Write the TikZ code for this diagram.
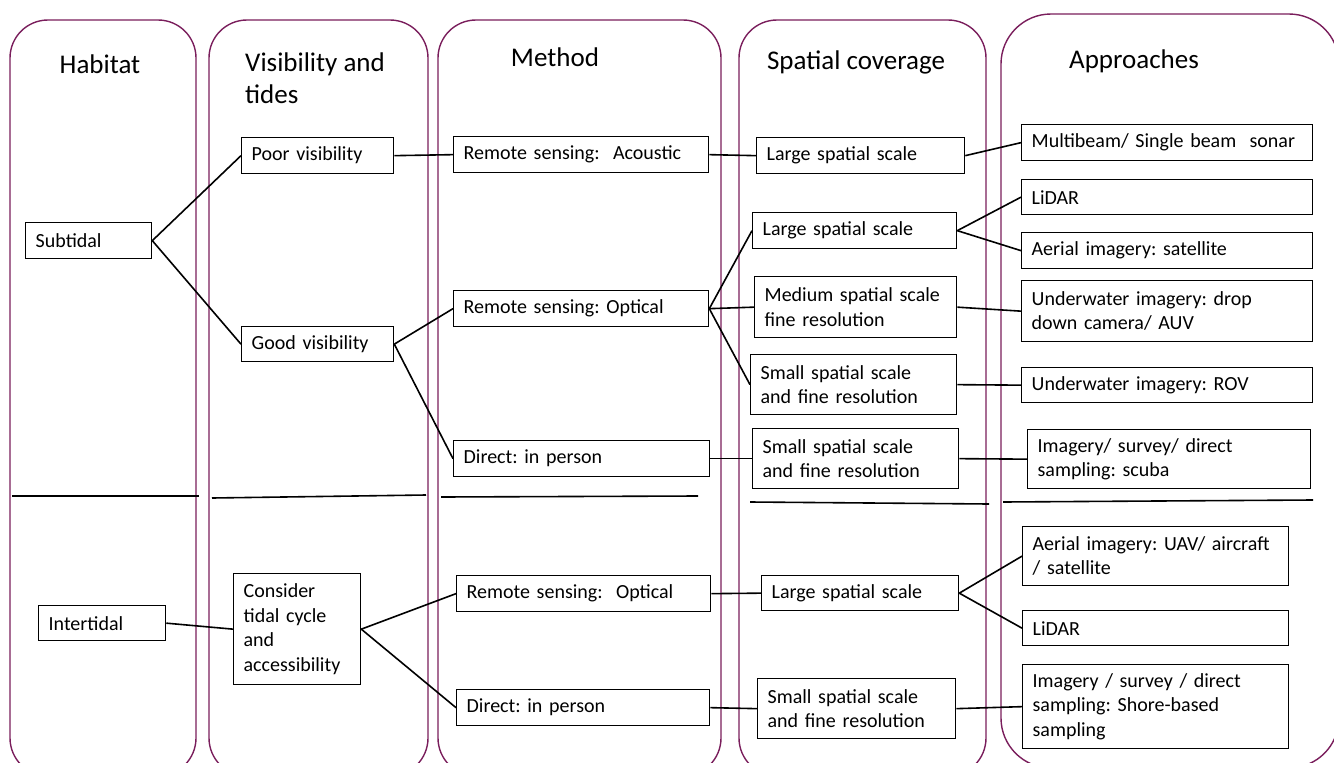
\documentclass[tikz,border=0pt]{standalone}
\usepackage{fontspec}
\setmainfont{Carlito}
\definecolor{colframe}{RGB}{122,30,92}
\frenchspacing

\begin{document}
\begin{tikzpicture}[x=1pt,y=-1pt,
  column/.style={draw=colframe, line width=1.4pt, rounded corners=38pt},
  head/.style={font=\fontsize{27}{32}\selectfont, inner sep=0pt},
  box/.style={draw, line width=1.3pt, anchor=north west, align=left,
    inner xsep=10pt, inner ysep=0pt, font=\fontsize{20}{24.5}\selectfont},
  link/.style={line width=1.6pt}]
  \useasboundingbox (0,0) rectangle (1334,763);
  \fill[white] (0,0) rectangle (1334,763);

  % columns
  \draw[column] (10,20) rectangle (196,776);
  \draw[column] (209,20) rectangle (428,776);
  \draw[column] (438,20) rectangle (721,776);
  \draw[column] (739,20) rectangle (986,776);
  \draw[column, rounded corners=50pt] (1001,14) rectangle (1339,768);

  % headings
  \node[head] (hHabitat) at (100,64) {Habitat};
  \node[head, anchor=west, align=left] (hVis) at (245,78) {Visibility and\\tides};
  \node[head] (hMethod) at (555,57) {Method};
  \node[head] (hSpatial) at (856,62) {Spatial coverage};
  \node[head] (hApproach) at (1134,61) {Approaches};

  % subtidal / intertidal split
  \draw[line width=1.6pt] (12,496) -- (199,496);
  \draw[line width=1.6pt] (212,498) -- (426,495);
  \draw[line width=1.6pt] (441,497) -- (698,496);
  \draw[line width=1.6pt] (750,502) -- (989,504);
  \draw[line width=1.6pt] (1003,502) -- (1313,500);

  % habitat
  \node[box, text width=106pt, minimum height=36pt] (sub) at (25,222) {Subtidal};
  \node[box, text width=107pt, minimum height=35pt] (inter) at (38,605) {Intertidal};

  % visibility and tides
  \node[box, text width=132pt, minimum height=36pt] (poor) at (241,137) {Poor visibility};
  \node[box, text width=132pt, minimum height=35pt] (good) at (241,326) {Good visibility};
  \node[box, text width=107pt, minimum height=111pt] (tidal) at (233,573)
    {Consider\\tidal cycle\\and\\accessibility};

  % method
  \node[box, text width=235pt, minimum height=36pt] (acoustic) at (453,136) {Remote sensing:\ \ Acoustic};
  \node[box, text width=235pt, minimum height=36pt] (opticalA) at (453,290) {Remote sensing: Optical};
  \node[box, text width=236pt, minimum height=36pt] (directA) at (453,440) {Direct: in person};
  \node[box, text width=234pt, minimum height=36pt] (opticalB) at (456,575) {Remote sensing:\ \ Optical};
  \node[box, text width=233pt, minimum height=36pt] (directB) at (456,689) {Direct: in person};

  % spatial coverage
  \node[box, text width=188pt, minimum height=36pt] (largeA) at (756,137) {Large spatial scale};
  \node[box, text width=184pt, minimum height=36pt] (largeB) at (752,212) {Large spatial scale};
  \node[box, text width=182pt, minimum height=61pt] (medium) at (754,276) {Medium spatial scale\\fine resolution};
  \node[box, text width=186pt, minimum height=60pt] (smallA) at (750,354) {Small spatial scale\\and fine resolution};
  \node[box, text width=186pt, minimum height=60pt] (smallB) at (752,428) {Small spatial scale\\and fine resolution};
  \node[box, text width=177pt, minimum height=35pt] (largeC) at (761,575) {Large spatial scale};
  \node[box, text width=178pt, minimum height=60pt] (smallC) at (757,678) {Small spatial scale\\and fine resolution};

  % approaches
  \node[box, text width=271pt, minimum height=36pt] (multi) at (1021,124) {Multibeam/ Single beam\ \ sonar};
  \node[box, text width=271pt, minimum height=35pt] (lidarA) at (1021,179) {LiDAR};
  \node[box, text width=271pt, minimum height=36pt] (aerialA) at (1021,232) {Aerial imagery: satellite};
  \node[box, text width=271pt, minimum height=61pt] (drop) at (1021,280) {Underwater imagery: drop\\down camera/ AUV};
  \node[box, text width=271pt, minimum height=35pt] (rov) at (1021,367) {Underwater imagery: ROV};
  \node[box, text width=263pt, minimum height=59pt] (scuba) at (1027,429) {Imagery/ survey/ direct\\sampling: scuba};
  \node[box, text width=246pt, minimum height=59pt] (aerialB) at (1022,526) {Aerial imagery: UAV/ aircraft\\/ satellite};
  \node[box, text width=246pt, minimum height=35pt] (lidarB) at (1022,610) {LiDAR};
  \node[box, text width=246pt, minimum height=84pt] (shore) at (1022,664)
    {Imagery / survey / direct\\sampling: Shore-based\\sampling};

  % links
  \draw[link] (sub.east) -- (poor.west);
  \draw[link] (sub.east) -- (good.west);
  \draw[link] (poor.east) -- (acoustic.west);
  \draw[link] (acoustic.east) -- (largeA.west);
  \draw[link] (largeA.east) -- (multi.west);
  \draw[link] (good.east) -- (opticalA.west);
  \draw[link] (good.east) -- (directA.west);
  \draw[link] (opticalA.east) -- (largeB.west);
  \draw[link] (opticalA.east) -- (medium.west);
  \draw[link] (opticalA.east) -- (smallA.west);
  \draw[link] (largeB.east) -- (lidarA.west);
  \draw[link] (largeB.east) -- (aerialA.west);
  \draw[link] (medium.east) -- (drop.west);
  \draw[link] (smallA.east) -- (rov.west);
  \draw[link] (directA.east) -- (smallB.west);
  \draw[link] (smallB.east) -- (scuba.west);
  \draw[link] (inter.east) -- (tidal.west);
  \draw[link] (tidal.east) -- (opticalB.west);
  \draw[link] (tidal.east) -- (directB.west);
  \draw[link] (opticalB.east) -- (largeC.west);
  \draw[link] (largeC.east) -- (aerialB.west);
  \draw[link] (largeC.east) -- (lidarB.west);
  \draw[link] (directB.east) -- (smallC.west);
  \draw[link] (smallC.east) -- (shore.west);
\end{tikzpicture}
\end{document}
